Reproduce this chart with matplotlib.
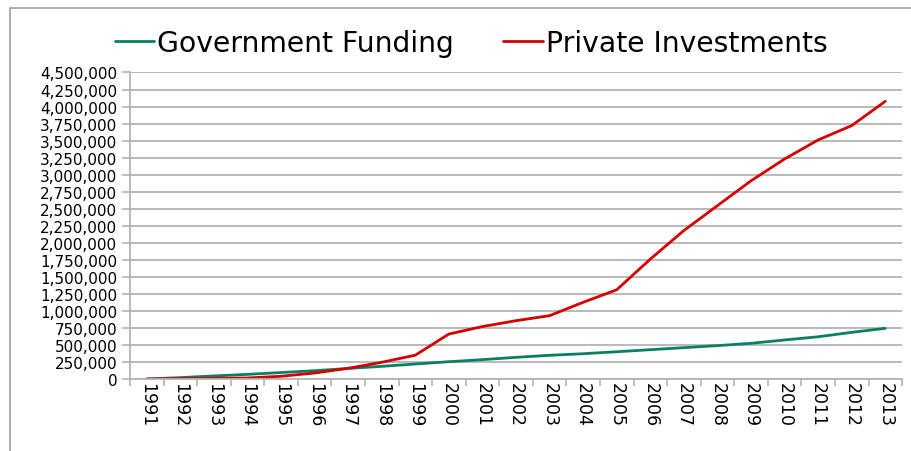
import matplotlib
matplotlib.use('Agg')
import matplotlib.pyplot as plt
import numpy as np
from matplotlib.patches import Rectangle
from matplotlib.ticker import FuncFormatter, FixedLocator

years = [str(y) for y in range(1991, 2014)]

government = [0, 20000, 45000, 68000, 95000, 122000, 155000, 186000, 220000,
              254000, 284000, 318000, 348000, 371000, 400000, 430000, 460000,
              490000, 524000, 573000, 620000, 685000, 744000]

private = [0, 5000, 10000, 15000, 40000, 88000, 157000, 245000, 350000,
           660000, 770000, 856000, 930000, 1126000, 1310000, 1760000, 2180000,
           2545000, 2910000, 3230000, 3510000, 3720000, 4077000]

GREEN = '#0b8060'
RED = '#d40000'
GRID = '#b4b4b4'

fig = plt.figure(figsize=(9.11, 4.52), dpi=100)
ax = fig.add_axes([0.1427, 0.1593, 0.8475, 0.6781])

x = np.arange(len(years))
ax.plot(x, government, color=GREEN, linewidth=2.0, label='Government Funding',
        solid_capstyle='round')
ax.plot(x, private, color=RED, linewidth=2.0, label='Private Investments',
        solid_capstyle='round')

ax.set_xlim(-0.5, len(years) - 0.5)
ax.set_ylim(0, 4500000)
ax.set_yticks(np.arange(0, 4500001, 250000))
ax.yaxis.set_major_formatter(FuncFormatter(lambda v, p: f'{int(v):,}'))
ax.grid(axis='y', color=GRID, linewidth=1.3)
ax.set_axisbelow(True)

ax.set_xticks(x)
ax.set_xticklabels(years, rotation=-90, fontsize=12.5)
ax.xaxis.set_minor_locator(FixedLocator(np.arange(-0.5, len(years), 1.0)))
ax.tick_params(axis='x', which='major', length=0, pad=2)
ax.tick_params(axis='x', which='minor', length=5, color=GRID, width=1.2)
ax.tick_params(axis='y', length=6, color=GRID, width=1.2, labelsize=11, pad=3)

for s in ['top', 'right']:
    ax.spines[s].set_visible(False)
for s in ['left', 'bottom']:
    ax.spines[s].set_color(GRID)
    ax.spines[s].set_linewidth(1.3)

fig.legend(loc='upper center', bbox_to_anchor=(0.517, 0.99), ncol=2, frameon=False,
           prop={'size': 20.3}, handlelength=1.4, handletextpad=0.1,
           columnspacing=1.75)

# outer chart frame
fig.patches.append(Rectangle((10 / 911, -0.05), 1.2, 1.0 - 9 / 452 + 0.05,
                             transform=fig.transFigure, fill=False,
                             edgecolor='#a0a0a0', linewidth=1.2))

plt.savefig('out.png', dpi=100)
plt.close()
